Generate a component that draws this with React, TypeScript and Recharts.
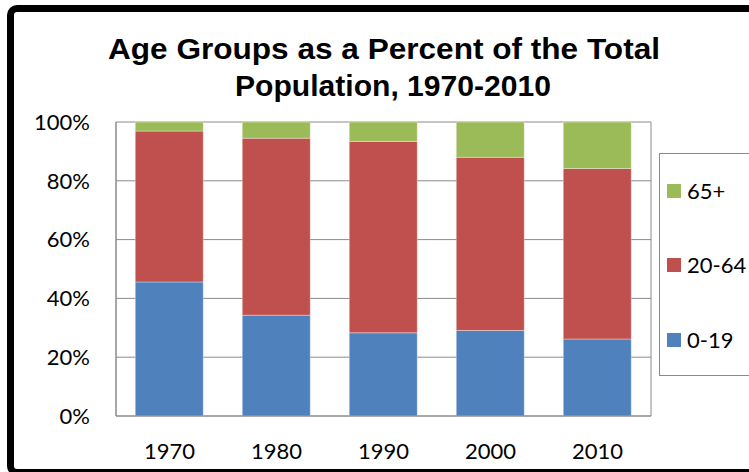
import { BarChart, Bar, XAxis, YAxis, CartesianGrid } from 'recharts'

const years = ['1970', '1980', '1990', '2000', '2010']
const age0to19 = [45.6, 34.3, 28.3, 29.1, 26.2]
const age20to64 = [51.3, 60.2, 65.1, 58.9, 58.0]
const age65plus = [3.1, 5.5, 6.6, 12.0, 15.8]
const percentTicks = [0, 20, 40, 60, 80, 100]

const seriesInfo = [
  { key: 'a0', name: '0-19', color: '#4F81BD' },
  { key: 'a20', name: '20-64', color: '#C0504D' },
  { key: 'a65', name: '65+', color: '#9BBB59' },
]

const data = years.map((year, i) => ({
  year,
  a0: age0to19[i],
  a20: age20to64[i],
  a65: age65plus[i],
}))

const labelFont = 'Lato, "Open Sans", sans-serif'
const titleFont = '"Liberation Sans", Arial, sans-serif'
const gridGray = '#8a8a8a'

function LegendBox() {
  const items = [...seriesInfo].reverse()
  return (
    <div
      style={{
        position: 'absolute',
        left: 659,
        top: 153,
        width: 120,
        height: 223,
        border: `1px solid ${gridGray}`,
        boxSizing: 'border-box',
        background: '#fff',
        fontFamily: labelFont,
        fontSize: 22,
        color: '#000',
      }}
    >
      {items.map((s, i) => (
        <div
          key={s.key}
          style={{
            position: 'absolute',
            left: 7,
            top: 37 + i * 74.3 - 13,
            height: 26,
            display: 'flex',
            alignItems: 'center',
          }}
        >
          <span style={{ width: 14, height: 14, background: s.color, display: 'inline-block', marginRight: 6 }} />
          <span style={{ lineHeight: '26px' }}>{s.name}</span>
        </div>
      ))}
    </div>
  )
}

export default function App() {
  return (
    <div style={{ position: 'absolute', left: 0, top: 0, width: 749, height: 472, overflow: 'hidden', background: '#fff' }}>
      <svg width={749} height={110} style={{ position: 'absolute', left: 0, top: 0 }}>
        <text x={384} y={59} textAnchor="middle" fontFamily={titleFont} fontWeight="bold" fontSize={29} textLength={552} lengthAdjust="spacingAndGlyphs">
          Age Groups as a Percent of the Total
        </text>
        <text x={393} y={95.5} textAnchor="middle" fontFamily={titleFont} fontWeight="bold" fontSize={29} textLength={316} lengthAdjust="spacingAndGlyphs">
          Population, 1970-2010
        </text>
      </svg>
      <div style={{ position: 'absolute', left: 0, top: 0 }}>
        <BarChart
          width={749}
          height={472}
          data={data}
          margin={{ top: 122, right: 98, bottom: 26, left: 0 }}
          barCategoryGap="18%"
        >
          <CartesianGrid
            stroke={gridGray}
            verticalCoordinatesGenerator={({ offset }: any) => [offset.left, offset.left + offset.width]}
          />
          <XAxis
            dataKey="year"
            height={30}
            tickLine={false}
            tickSize={0}
            tickMargin={27}
            axisLine={{ stroke: gridGray }}
            tick={{ fill: '#000', fontSize: 22, fontFamily: labelFont }}
          />
          <YAxis
            width={116}
            domain={[0, 100]}
            ticks={percentTicks}
            interval={0}
            tickFormatter={(v) => `${v}%`}
            tickLine={false}
            tickSize={0}
            tickMargin={26}
            axisLine={{ stroke: gridGray }}
            tick={{ fill: '#000', fontSize: 22, fontFamily: labelFont }}
          />
          {seriesInfo.map((s) => (
            <Bar
              key={s.key}
              dataKey={s.key}
              name={s.name}
              stackId="age"
              fill={s.color}
              stroke="rgba(255,255,255,0.35)"
              strokeWidth={1}
              isAnimationActive={false}
            />
          ))}
        </BarChart>
      </div>
      <LegendBox />
      <div
        style={{
          position: 'absolute',
          left: 7,
          top: 5,
          width: 800,
          height: 471,
          border: '7px solid #000',
          borderRadius: 10,
          boxSizing: 'border-box',
          pointerEvents: 'none',
        }}
      />
    </div>
  )
}
